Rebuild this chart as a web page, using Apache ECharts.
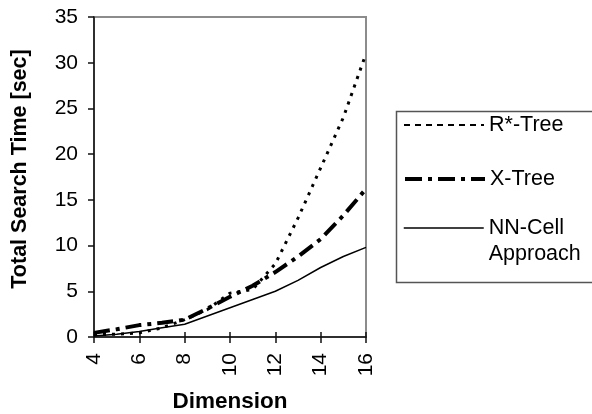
<!DOCTYPE html>
<html>
<head>
<meta charset="utf-8">
<script src="https://cdn.jsdelivr.net/npm/echarts@6/dist/echarts.min.js"></script>
<style>
html,body{margin:0;padding:0;background:#fff;}
#c{width:592px;height:414px;}
</style>
</head>
<body>
<div id="c"></div>
<script>
var dims = [4, 5, 6, 7, 8, 9, 10, 11, 12, 13, 14, 15, 16];
var rstarTree = [0.25, 0.3, 0.45, 1.0, 1.9, 3.0, 4.8, 5.2, 8.0, 13.0, 18.5, 24.0, 31.0];
var xTree = [0.45, 0.85, 1.3, 1.55, 1.9, 3.1, 4.4, 5.6, 7.1, 8.8, 10.7, 13.3, 16.2];
var nnCell = [0.1, 0.3, 0.6, 1.0, 1.4, 2.3, 3.2, 4.1, 5.0, 6.2, 7.6, 8.8, 9.8];
var seriesNames = ['R*-Tree', 'X-Tree', 'NN-Cell Approach'];
var yTitle = 'Total Search Time [sec]';
var xTitle = 'Dimension';

function pairs(vals) { return dims.map(function (d, i) { return [d, vals[i]]; }); }

var FONT = '"Liberation Sans", Arial, sans-serif';
var chart = echarts.init(document.getElementById('c'), null, {renderer: 'canvas'});

function legendBox(name, top, lineStyle) {
  return {
    data: [name], orient: 'vertical', left: 403, top: top, padding: 0,
    itemWidth: 80, itemHeight: 14, selectedMode: false,
    itemStyle: {opacity: 0, color: 'rgba(0,0,0,0)', borderWidth: 0},
    lineStyle: lineStyle,
    textStyle: {color: '#000', fontFamily: FONT, fontSize: 21.5, lineHeight: 26},
    formatter: function (n) { return n === 'NN-Cell Approach' ? '\u00a0\nNN-Cell\nApproach' : n; }
  };
}

chart.setOption({
  animation: false,
  backgroundColor: '#fff',
  graphic: [{
    type: 'rect', left: 394, top: 109, z: -1,
    shape: {width: 260, height: 171},
    style: {fill: 'none', stroke: '#555', lineWidth: 1.5}
  }],
  legend: [
    legendBox(seriesNames[0], 112, {color: '#000', width: 2, type: [6, 5], cap: 'butt'}),
    legendBox(seriesNames[1], 166, {color: '#000', width: 4, type: [17, 6, 4, 6], cap: 'butt'}),
    legendBox(seriesNames[2], 189, {color: '#000', width: 1.5, type: 'solid'})
  ],
  grid: {left: 94, right: 226, top: 17, bottom: 77, containLabel: false, outerBoundsMode: 'none',
    show: true, borderColor: '#8c8c8c', borderWidth: 2, backgroundColor: 'transparent'},
  xAxis: [{
    type: 'value', min: 4, max: 16, interval: 2,
    name: xTitle, nameLocation: 'middle', nameGap: 53,
    nameTextStyle: {color: '#000', fontFamily: FONT, fontSize: 22.5, fontWeight: 'bold'},
    axisLine: {show: true, onZero: false, lineStyle: {color: '#111', width: 1.5}},
    axisTick: {show: true, length: 6, lineStyle: {color: '#111', width: 1.5}},
    axisLabel: {rotate: 90, margin: 16, color: '#000', fontFamily: FONT, fontSize: 21},
    splitLine: {show: false}
  }, {
    type: 'value', min: 4, max: 16, interval: 2, position: 'bottom',
    axisLine: {show: false},
    axisTick: {show: true, inside: true, length: 5, lineStyle: {color: '#111', width: 1.5}},
    axisLabel: {show: false}, splitLine: {show: false}
  }],
  yAxis: {
    type: 'value', min: 0, max: 35, interval: 5,
    name: yTitle, nameLocation: 'middle', nameGap: 63, nameRotate: 90,
    nameTextStyle: {color: '#000', fontFamily: FONT, fontSize: 21.5, fontWeight: 'bold', padding: [0, 0, 0, 16]},
    axisLine: {show: true, lineStyle: {color: '#111', width: 1.5}},
    axisTick: {show: true, length: 6, lineStyle: {color: '#111', width: 1.5}},
    axisLabel: {margin: 16, color: '#000', fontFamily: FONT, fontSize: 21},
    splitLine: {show: false}
  },
  series: [{
    name: seriesNames[0], type: 'line', symbol: 'none', data: pairs(rstarTree),
    lineStyle: {color: '#000', width: 3, type: [3, 6], cap: 'butt'}, itemStyle: {color: '#000'}
  }, {
    name: seriesNames[1], type: 'line', symbol: 'none', data: pairs(xTree),
    lineStyle: {color: '#000', width: 4, type: [16, 6, 4, 6], cap: 'butt'}, itemStyle: {color: '#000'}
  }, {
    name: seriesNames[2], type: 'line', symbol: 'none', data: pairs(nnCell),
    lineStyle: {color: '#000', width: 1.5, type: 'solid'}, itemStyle: {color: '#000'}
  }]
});
</script>
</body>
</html>
